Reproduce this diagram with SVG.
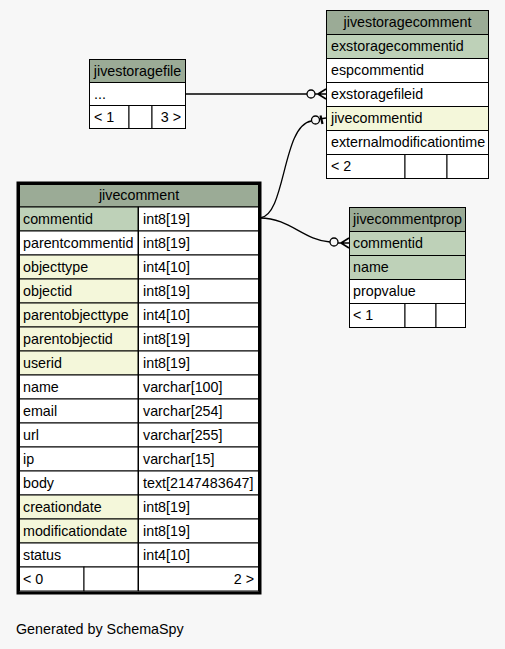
<svg xmlns="http://www.w3.org/2000/svg" width="505" height="649" viewBox="0 0 505 649">
<style>
text{font-family:"Liberation Sans",Arial,sans-serif;font-size:14.3px;fill:#000}
.h{fill:#9bab96;stroke:#000;stroke-width:1}
.pk{fill:#bed1b8;stroke:#000;stroke-width:1}
.ix{fill:#f4f7da;stroke:#000;stroke-width:1}
.w{fill:#fff;stroke:#000;stroke-width:1}
.c{text-anchor:middle}
.r{text-anchor:end}
.edge{fill:none;stroke:#000;stroke-width:1.3}
.mk{fill:none;stroke:#000;stroke-width:1.6}
.dot{fill:#f7f7f7;stroke:#000;stroke-width:1.3}
</style>
<rect x="0" y="0" width="505" height="649" fill="#f7f7f7"/>

<g id="connectors">
  <path class="edge" d="M186,94 L307,94"/>
  <circle class="dot" cx="311" cy="94" r="4"/>
  <path class="mk" d="M315,94 L326,94 M318,94 L326,89 M318,94 L326,99"/>

  <path class="edge" d="M260,218 C286,216 282,125 311.5,121"/>
  <circle class="dot" cx="315.5" cy="120" r="4"/>
  <path class="mk" d="M319.5,119 L326,118"/>
  <path d="M320.5,115.5 L322.5,124" stroke="#000" stroke-width="2.2" fill="none"/>

  <path class="edge" d="M260,218 C290,218 303,240 330,242"/>
  <circle class="dot" cx="334" cy="242" r="4"/>
  <path class="mk" d="M338,243 L349,243 M341,243 L349,238 M341,243 L349,248"/>
</g>

<g id="jivestoragecomment">
  <rect class="h" x="326.5" y="10.5" width="162" height="24"/>
  <text class="c" x="407.5" y="27">jivestoragecomment</text>
  <rect class="pk" x="326.5" y="34.5" width="162" height="24"/>
  <text x="331" y="51">exstoragecommentid</text>
  <rect class="w" x="326.5" y="58.5" width="162" height="24"/>
  <text x="331" y="75">espcommentid</text>
  <rect class="w" x="326.5" y="82.5" width="162" height="24"/>
  <text x="331" y="99">exstoragefileid</text>
  <rect class="ix" x="326.5" y="106.5" width="162" height="24"/>
  <text x="331" y="123">jivecommentid</text>
  <rect class="w" x="326.5" y="130.5" width="162" height="24"/>
  <text x="331" y="147">externalmodificationtime</text>
  <rect class="w" x="326.5" y="154.5" width="78.5" height="24"/>
  <rect class="w" x="405" y="154.5" width="42" height="24"/>
  <rect class="w" x="447" y="154.5" width="41.5" height="24"/>
  <text x="331" y="171">&lt; 2</text>
</g>

<g id="jivestoragefile">
  <rect class="h" x="89.5" y="59.5" width="96" height="23"/>
  <text class="c" x="137.5" y="76">jivestoragefile</text>
  <rect class="w" x="89.5" y="82.5" width="96" height="23"/>
  <text x="94" y="99">...</text>
  <rect class="w" x="89.5" y="105.5" width="39.5" height="23"/>
  <rect class="w" x="129" y="105.5" width="23" height="23"/>
  <rect class="w" x="152" y="105.5" width="33.5" height="23"/>
  <text x="94" y="122">&lt; 1</text>
  <text class="r" x="181" y="122">3 &gt;</text>
</g>

<g id="jivecommentprop">
  <rect class="h" x="349.5" y="207.5" width="116" height="24"/>
  <text class="c" x="407.5" y="224">jivecommentprop</text>
  <rect class="pk" x="349.5" y="231.5" width="116" height="24"/>
  <text x="353" y="248">commentid</text>
  <rect class="pk" x="349.5" y="255.5" width="116" height="24"/>
  <text x="353" y="272">name</text>
  <rect class="w" x="349.5" y="279.5" width="116" height="24"/>
  <text x="353" y="296">propvalue</text>
  <rect class="w" x="349.5" y="303.5" width="55.5" height="24"/>
  <rect class="w" x="405" y="303.5" width="31" height="24"/>
  <rect class="w" x="436" y="303.5" width="29.5" height="24"/>
  <text x="353" y="320">&lt; 1</text>
</g>

<g id="jivecomment">
  <rect class="h" x="19.5" y="184.5" width="239" height="22.5"/>
  <text class="c" x="139" y="200">jivecomment</text>

  <rect class="pk" x="19.5" y="207" width="118.5" height="24"/>
  <rect class="w" x="138.5" y="207" width="120" height="24"/>
  <text x="23" y="224">commentid</text><text x="143" y="224">int8[19]</text>

  <rect class="w" x="19.5" y="231" width="118.5" height="24"/>
  <rect class="w" x="138.5" y="231" width="120" height="24"/>
  <text x="23" y="248">parentcommentid</text><text x="143" y="248">int8[19]</text>

  <rect class="ix" x="19.5" y="255" width="118.5" height="24"/>
  <rect class="w" x="138.5" y="255" width="120" height="24"/>
  <text x="23" y="272">objecttype</text><text x="143" y="272">int4[10]</text>

  <rect class="ix" x="19.5" y="279" width="118.5" height="24"/>
  <rect class="w" x="138.5" y="279" width="120" height="24"/>
  <text x="23" y="296">objectid</text><text x="143" y="296">int8[19]</text>

  <rect class="ix" x="19.5" y="303" width="118.5" height="24"/>
  <rect class="w" x="138.5" y="303" width="120" height="24"/>
  <text x="23" y="320">parentobjecttype</text><text x="143" y="320">int4[10]</text>

  <rect class="ix" x="19.5" y="327" width="118.5" height="24"/>
  <rect class="w" x="138.5" y="327" width="120" height="24"/>
  <text x="23" y="344">parentobjectid</text><text x="143" y="344">int8[19]</text>

  <rect class="ix" x="19.5" y="351" width="118.5" height="24"/>
  <rect class="w" x="138.5" y="351" width="120" height="24"/>
  <text x="23" y="368">userid</text><text x="143" y="368">int8[19]</text>

  <rect class="w" x="19.5" y="375" width="118.5" height="24"/>
  <rect class="w" x="138.5" y="375" width="120" height="24"/>
  <text x="23" y="392">name</text><text x="143" y="392">varchar[100]</text>

  <rect class="w" x="19.5" y="399" width="118.5" height="24"/>
  <rect class="w" x="138.5" y="399" width="120" height="24"/>
  <text x="23" y="416">email</text><text x="143" y="416">varchar[254]</text>

  <rect class="w" x="19.5" y="423" width="118.5" height="24"/>
  <rect class="w" x="138.5" y="423" width="120" height="24"/>
  <text x="23" y="440">url</text><text x="143" y="440">varchar[255]</text>

  <rect class="w" x="19.5" y="447" width="118.5" height="24"/>
  <rect class="w" x="138.5" y="447" width="120" height="24"/>
  <text x="23" y="464">ip</text><text x="143" y="464">varchar[15]</text>

  <rect class="w" x="19.5" y="471" width="118.5" height="24"/>
  <rect class="w" x="138.5" y="471" width="120" height="24"/>
  <text x="23" y="488">body</text><text x="143" y="488">text[2147483647]</text>

  <rect class="ix" x="19.5" y="495" width="118.5" height="24"/>
  <rect class="w" x="138.5" y="495" width="120" height="24"/>
  <text x="23" y="512">creationdate</text><text x="143" y="512">int8[19]</text>

  <rect class="ix" x="19.5" y="519" width="118.5" height="24"/>
  <rect class="w" x="138.5" y="519" width="120" height="24"/>
  <text x="23" y="536">modificationdate</text><text x="143" y="536">int8[19]</text>

  <rect class="w" x="19.5" y="543" width="118.5" height="24"/>
  <rect class="w" x="138.5" y="543" width="120" height="24"/>
  <text x="23" y="560">status</text><text x="143" y="560">int4[10]</text>

  <rect class="w" x="19.5" y="567" width="64.5" height="24"/>
  <rect class="w" x="84" y="567" width="54" height="24"/>
  <rect class="w" x="138.5" y="567" width="120" height="24"/>
  <text x="23" y="584">&lt; 0</text>
  <text class="r" x="254" y="584">2 &gt;</text>

  <rect x="18" y="183" width="242" height="410" fill="none" stroke="#000" stroke-width="3"/>
</g>

<text x="16" y="634">Generated by SchemaSpy</text>
</svg>
